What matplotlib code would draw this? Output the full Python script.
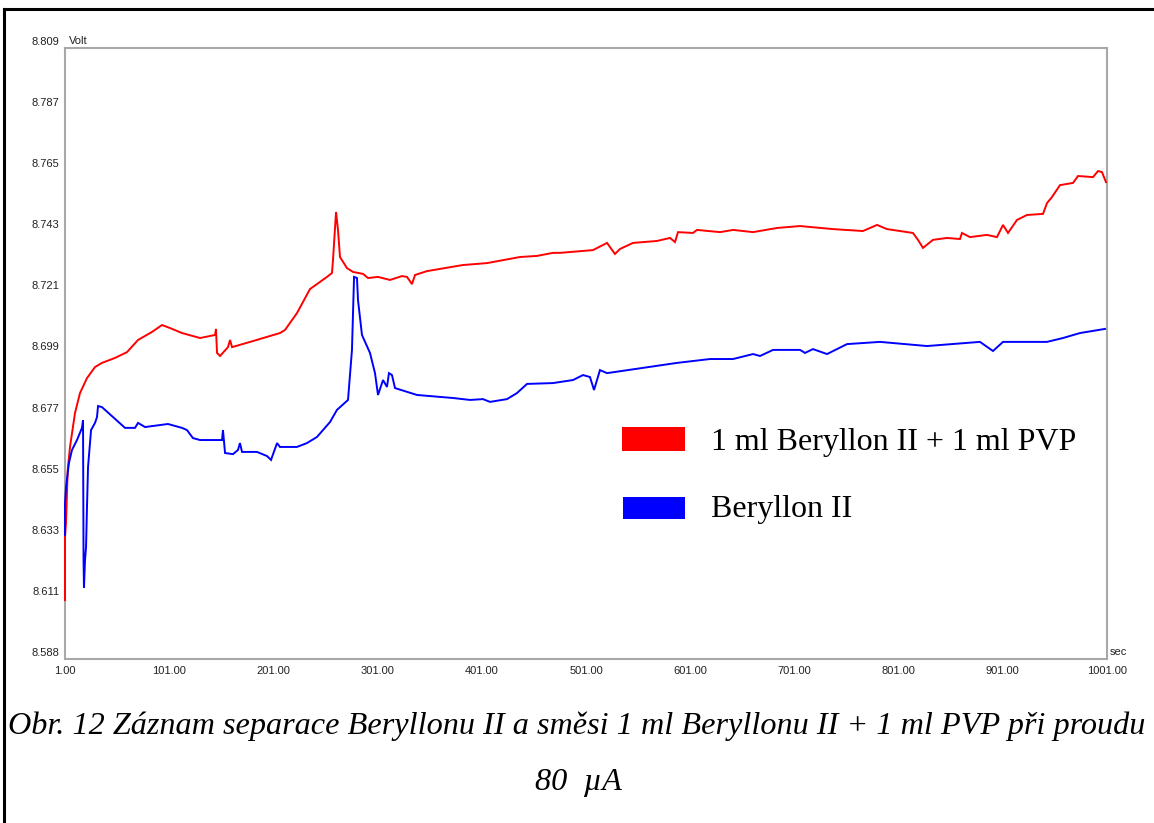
import matplotlib
matplotlib.use('Agg')
import matplotlib.pyplot as plt
from matplotlib.lines import Line2D
from matplotlib.patches import Rectangle
import matplotlib.transforms as mtransforms

# ---------------- data ----------------
red_t = [1.0, 1.0, 1.96, 3.6, 5.8, 10.6, 15.4, 22.1, 29.8, 36.5, 49.0, 60.5, 71.1, 84.5,
         94.1, 101.8, 113.3, 130.6, 145.0, 145.9, 146.9, 149.8, 157.4, 159.4, 161.3,
         181.4, 207.3, 212.1, 223.6, 236.1, 252.4, 257.2, 258.2, 261.1, 263.0, 264.9,
         271.6, 277.4, 287.0, 291.8, 301.4, 312.9, 324.4, 329.2, 334.0, 336.9, 348.4,
         382.9, 406.0, 437.7, 454.0, 469.3, 476.0, 507.7, 521.2, 524.0, 528.8, 533.6,
         546.1, 569.1, 581.6, 586.4, 589.3, 603.7, 607.5, 629.6, 642.1, 661.3, 684.3,
         706.4, 738.0, 766.8, 780.3, 789.9, 802.3, 814.8, 819.6, 824.4, 834.0, 847.5,
         859.9, 861.8, 869.5, 885.8, 895.4, 901.2, 906.0, 914.6, 924.2, 939.6, 943.4,
         948.2, 955.9, 968.4, 973.2, 987.6, 992.4, 996.2, 1000.0]
red_v = [8.6093, 8.6321, 8.6372, 8.6564, 8.6647, 8.6770, 8.6842, 8.6896, 8.6936, 8.6951,
         8.6969, 8.6990, 8.7034, 8.7063, 8.7088, 8.7077, 8.7059, 8.7041, 8.7052, 8.7074,
         8.6987, 8.6976, 8.7008, 8.7034, 8.7008, 8.7030, 8.7059, 8.7070, 8.7131, 8.7218,
         8.7262, 8.7276, 8.7323, 8.7497, 8.7432, 8.7334, 8.7294, 8.7280, 8.7273, 8.7258,
         8.7262, 8.7251, 8.7265, 8.7262, 8.7236, 8.7269, 8.7283, 8.7305, 8.7312, 8.7334,
         8.7338, 8.7349, 8.7349, 8.7359, 8.7385, 8.7370, 8.7345, 8.7363, 8.7385, 8.7392,
         8.7403, 8.7388, 8.7424, 8.7421, 8.7432, 8.7424, 8.7432, 8.7424, 8.7439, 8.7446,
         8.7435, 8.7428, 8.7450, 8.7435, 8.7428, 8.7421, 8.7396, 8.7367, 8.7396, 8.7403,
         8.7399, 8.7421, 8.7406, 8.7414, 8.7406, 8.7450, 8.7421, 8.7468, 8.7486, 8.7490,
         8.7529, 8.7551, 8.7594, 8.7602, 8.7627, 8.7623, 8.7645, 8.7641, 8.7605]

blue_t = [1.0, 1.0, 1.96, 4.8, 7.7, 12.5, 17.3, 18.3, 18.8, 19.2, 20.2, 21.2, 22.1, 23.1,
          26.0, 29.8, 31.7, 32.7, 36.5, 47.1, 58.6, 68.2, 71.1, 77.8, 99.8, 113.3, 118.1,
          123.8, 130.6, 151.7, 152.6, 154.6, 162.2, 167.0, 168.9, 170.9, 185.3, 194.9,
          198.7, 204.5, 207.3, 223.6, 233.2, 242.8, 255.3, 262.0, 272.6, 276.4, 278.4,
          281.2, 282.2, 286.0, 293.7, 298.5, 301.4, 306.2, 310.0, 311.9, 314.8, 317.7,
          338.8, 373.4, 389.7, 402.1, 408.9, 425.2, 434.8, 444.4, 469.3, 488.5, 498.1,
          504.8, 508.7, 514.4, 521.2, 555.7, 588.3, 620.0, 642.1, 661.3, 668.0, 680.5,
          706.4, 711.2, 718.8, 732.3, 751.5, 783.1, 828.3, 879.1, 891.6, 901.2, 943.4,
          958.8, 975.1, 999.1]
blue_v = [8.6329, 8.6444, 8.6502, 8.6589, 8.6636, 8.6672, 8.6716, 8.6744, 8.6238, 8.6137,
          8.6238, 8.6285, 8.6430, 8.6574, 8.6708, 8.6734, 8.6755, 8.6795, 8.6791, 8.6755,
          8.6716, 8.6716, 8.6734, 8.6719, 8.6730, 8.6716, 8.6708, 8.6679, 8.6672, 8.6672,
          8.6708, 8.6625, 8.6621, 8.6636, 8.6661, 8.6629, 8.6629, 8.6614, 8.6600, 8.6661,
          8.6647, 8.6647, 8.6661, 8.6683, 8.6737, 8.6781, 8.6817, 8.6998, 8.7262, 8.7258,
          8.7178, 8.7052, 8.6987, 8.6914, 8.6835, 8.6889, 8.6864, 8.6914, 8.6907, 8.6860,
          8.6835, 8.6824, 8.6817, 8.6820, 8.6810, 8.6820, 8.6842, 8.6875, 8.6878, 8.6889,
          8.6907, 8.6900, 8.6853, 8.6925, 8.6914, 8.6933, 8.6951, 8.6965, 8.6965, 8.6983,
          8.6976, 8.6998, 8.6998, 8.6987, 8.7001, 8.6983, 8.7019, 8.7027, 8.7012, 8.7027,
          8.6994, 8.7027, 8.7027, 8.7041, 8.7059, 8.7074]

x_ticks = [1, 101, 201, 301, 401, 501, 601, 701, 801, 901, 1001]
x_tick_labels = ['1.00', '101.00', '201.00', '301.00', '401.00', '501.00', '601.00',
                 '701.00', '801.00', '901.00', '1001.00']
y_min, y_max = 8.588, 8.809
y_tick_labels = ['8.588', '8.611', '8.633', '8.655', '8.677', '8.699', '8.721',
                 '8.743', '8.765', '8.787', '8.809']

series_labels = ['1 ml Beryllon II + 1 ml PVP', 'Beryllon II']
series_colors = ['#ff0000', '#0000ff']
caption_1 = 'Obr. 12 Záznam separace Beryllonu II a směsi 1 ml Beryllonu II + 1 ml PVP při proudu'
caption_2 = '80  µA'

# ---------------- figure ----------------
W, H = 1154, 823
fig = plt.figure(figsize=(W / 100, H / 100), dpi=100)
fig.patch.set_facecolor('white')


def fx(px):
    return px / W


def fy(py):
    return 1 - py / H


ax = fig.add_axes([fx(65), fy(659), fx(1107) - fx(65), fy(48) - fy(659)])
ax.plot(red_t, red_v, color=series_colors[0], lw=1.4, solid_joinstyle='miter',
        zorder=3, clip_on=False)
ax.plot(blue_t, blue_v, color=series_colors[1], lw=1.4, solid_joinstyle='miter',
        zorder=3, clip_on=False)
ax.set_xlim(1, 1001)
ax.set_ylim(y_min, y_max)

step = (y_max - y_min) / 10
y_ticks = [y_min + i * step for i in range(11)]
ax.set_xticks(x_ticks, x_tick_labels)
ax.set_yticks(y_ticks, y_tick_labels)
ax.tick_params(length=0, labelsize=8, colors='#222222')
ax.tick_params(axis='y', pad=4)
ax.tick_params(axis='x', pad=5)
for lab in ax.get_xticklabels() + ax.get_yticklabels():
    lab.set_family('Liberation Sans')
off = mtransforms.ScaledTranslation(0, 7 / 100, fig.dpi_scale_trans)
for lab in ax.get_yticklabels():
    lab.set_transform(lab.get_transform() + off)
for s in ax.spines.values():
    s.set_color('#a8a8a8')
    s.set_linewidth(1.5)

fig.text(fx(69), fy(41), 'Volt', ha='left', va='center', fontsize=8,
         family='Liberation Sans', color='#222222')
fig.text(fx(1110), fy(652), 'sec', ha='left', va='center', fontsize=8,
         family='Liberation Sans', color='#222222')

# outer frame (left and top visible)
fig.add_artist(Line2D([fx(4), fx(4)], [fy(9), 0], color='black', lw=2.2,
                      transform=fig.transFigure))
fig.add_artist(Line2D([fx(4), 1], [fy(9), fy(9)], color='black', lw=2.2,
                      transform=fig.transFigure))

# legend
fig.add_artist(Rectangle((fx(622), fy(451)), fx(63), 24 / H, transform=fig.transFigure,
                         facecolor=series_colors[0], edgecolor='none'))
fig.add_artist(Rectangle((fx(623), fy(519)), fx(62), 22 / H, transform=fig.transFigure,
                         facecolor=series_colors[1], edgecolor='none'))
fig.text(fx(711), fy(450), series_labels[0], ha='left', va='baseline', fontsize=23,
         family='Liberation Serif', color='black')
fig.text(fx(711), fy(517), series_labels[1], ha='left', va='baseline', fontsize=23,
         family='Liberation Serif', color='black')

# caption
fig.text(fx(577), fy(734), caption_1, ha='center', va='baseline', fontsize=23.2,
         family='Liberation Serif', style='italic', color='black')
fig.text(fx(578), fy(790), caption_2, ha='center', va='baseline', fontsize=23.2,
         family='Liberation Serif', style='italic', color='black')

fig.savefig('out.png', dpi=100)
